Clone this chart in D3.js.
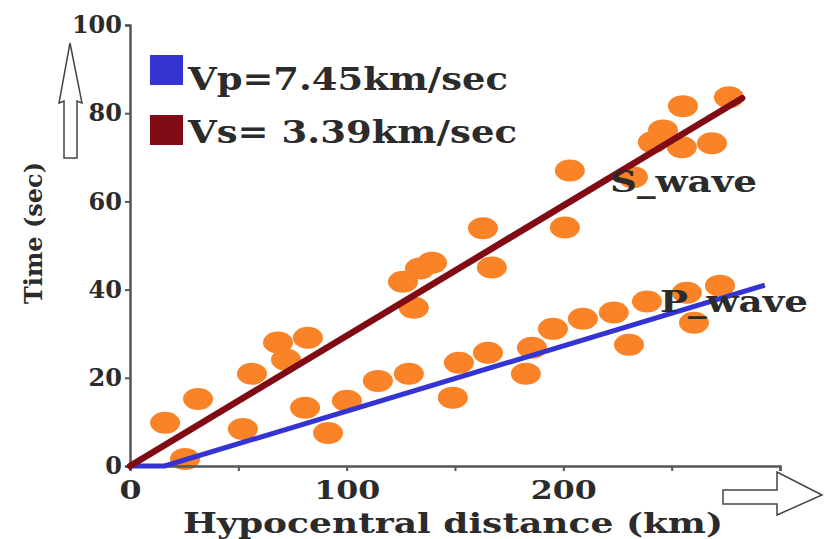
<!DOCTYPE html>
<html>
<head>
<meta charset="utf-8">
<script src="https://cdn.jsdelivr.net/npm/d3@7"></script>
<style>
  html, body { margin: 0; padding: 0; background: #fff; }
  svg { display: block; }
  text { font-family: "DejaVu Serif", serif; font-weight: bold; fill: #2b2b2b; }
</style>
</head>
<body>
<svg id="chart" width="826" height="539"></svg>
<script>
// ---- data ----
const sDist = [16.2, 31.4, 56.3, 68.3, 72.0, 82.1, 126.0, 131.0, 133.8, 139.4, 162.9, 167.0, 200.7, 203.0, 232.1, 241.3, 246.0, 254.7, 255.2, 268.6, 276.4];
const sTime = [9.8, 15.2, 20.9, 28.0, 24.1, 29.1, 41.8, 35.9, 44.8, 46.1, 53.9, 45.0, 54.1, 67.0, 65.5, 73.4, 76.1, 72.3, 81.6, 73.2, 83.6];
const pDist = [25.4, 52.1, 80.8, 91.4, 100.1, 114.4, 128.7, 149.0, 151.8, 165.2, 182.7, 185.5, 195.2, 209.0, 223.3, 230.3, 238.6, 257.0, 260.3, 272.3];
const pTime = [1.6, 8.4, 13.2, 7.5, 14.8, 19.3, 20.9, 15.5, 23.4, 25.7, 20.9, 26.8, 31.1, 33.4, 34.8, 27.5, 37.3, 39.3, 32.5, 40.9];
const sLine = [[0, 0], [282.5, 83.4]];
const pLine = [[0, 0], [16, 0], [293, 41]];
const xTicks = [0, 50, 100, 150, 200, 250, 300];
const xTickLabels = ["0", "", "100", "", "200", "", ""];
const yTicks = [0, 20, 40, 60, 80, 100];
const legendLabels = ["Vp=7.45km/sec", "Vs= 3.39km/sec"];
const waveLabels = ["S_wave", "P_wave"];
const xTitle = "Hypocentral distance (km)";
const yTitle = "Time (sec)";

// ---- drawing ----
const svg = d3.select("#chart");
const x = d3.scaleLinear().domain([0, 300]).range([130, 780]);
const y = d3.scaleLinear().domain([0, 100]).range([466, 25]);

const axisColor = "#555";
const orange = "#f98326";
const blue = "#3434d2";
const red = "#800b14";

// points
const pts = svg.append("g");
pts.selectAll(".s").data(d3.zip(sDist, sTime)).join("ellipse")
  .attr("cx", d => x(d[0])).attr("cy", d => y(d[1]))
  .attr("rx", 15).attr("ry", 11).attr("fill", orange);
pts.selectAll(".p").data(d3.zip(pDist, pTime)).join("ellipse")
  .attr("cx", d => x(d[0])).attr("cy", d => y(d[1]))
  .attr("rx", 15).attr("ry", 11).attr("fill", orange);

// axes
const xAxis = d3.axisBottom(x).tickValues(xTicks).tickSize(5).tickPadding(6)
  .tickFormat((d, i) => xTickLabels[i]);
const gx = svg.append("g").attr("transform", `translate(0,${y(0)})`).call(xAxis);
gx.select(".domain").attr("stroke", axisColor).attr("stroke-width", 2.5);
gx.selectAll(".tick line").attr("stroke", axisColor).attr("stroke-width", 2);
gx.selectAll(".tick text").attr("font-size", 26).attr("fill", "#2b2b2b")
  .attr("font-family", "DejaVu Serif").attr("font-weight", "bold").attr("dy", "22px")
  .attr("transform", "scale(1.12,1)");
gx.selectAll(".tick text").attr("transform", null)
  .attr("textLength", (d, i) => xTickLabels[i].length * 22).attr("lengthAdjust", "spacingAndGlyphs")
  .attr("text-anchor", "middle");

const yAxis = d3.axisLeft(y).tickValues(yTicks).tickSize(5).tickPadding(3);
const gy = svg.append("g").attr("transform", `translate(${x(0)},0)`).call(yAxis);
gy.select(".domain").attr("stroke", axisColor).attr("stroke-width", 2.5);
gy.selectAll(".tick line").attr("stroke", axisColor).attr("stroke-width", 2);
gy.selectAll(".tick text").attr("font-size", 24).attr("fill", "#2b2b2b")
  .attr("font-family", "DejaVu Serif").attr("font-weight", "bold");

// fit lines
const line = d3.line().x(d => x(d[0])).y(d => y(d[1]));
svg.append("path").datum(pLine).attr("d", line)
  .attr("fill", "none").attr("stroke", blue).attr("stroke-width", 5);
svg.append("path").datum(sLine).attr("d", line)
  .attr("fill", "none").attr("stroke", red).attr("stroke-width", 6.5).attr("stroke-linecap", "round");

// wave labels
svg.append("text").attr("x", 610).attr("y", 192).attr("font-size", 30)
  .attr("textLength", 147).attr("lengthAdjust", "spacingAndGlyphs").text(waveLabels[0]);
svg.append("text").attr("x", 660).attr("y", 312).attr("font-size", 30)
  .attr("textLength", 148).attr("lengthAdjust", "spacingAndGlyphs").text(waveLabels[1]);

// legend
const leg = svg.append("g");
const legColors = [blue, red];
legendLabels.forEach((t, i) => {
  const top = 55 + i * 60;
  leg.append("rect").attr("x", 150).attr("y", top).attr("width", 33).attr("height", 30)
    .attr("fill", legColors[i]);
  leg.append("text").attr("x", 188).attr("y", top + 35 - i * 7).attr("font-size", 31)
    .attr("textLength", i === 0 ? 320 : 329).attr("lengthAdjust", "spacingAndGlyphs").text(t);
});

// axis titles
svg.append("text").attr("x", 183).attr("y", 533).attr("font-size", 27)
  .attr("textLength", 540).attr("lengthAdjust", "spacingAndGlyphs").text(xTitle);
svg.append("text").attr("transform", "translate(42,233) rotate(-90)")
  .attr("text-anchor", "middle").attr("font-size", 24).text(yTitle);

// hollow arrows
svg.append("path")
  .attr("d", "M70,43 L82,103 L77,101 L77,158 L64,158 L64,101 L59,103 Z")
  .attr("fill", "#fff").attr("stroke", "#444").attr("stroke-width", 1.5);
svg.append("path")
  .attr("d", "M723,490 L777,490 L777,472 L822,495 L777,515 L777,504 L723,504 Z")
  .attr("fill", "#fff").attr("stroke", "#444").attr("stroke-width", 1.5);
</script>
</body>
</html>
